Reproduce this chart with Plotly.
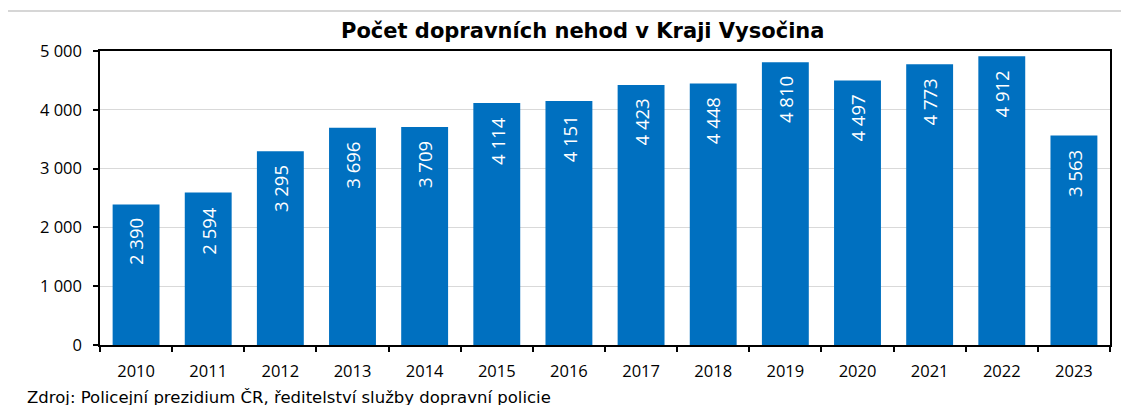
import plotly.graph_objects as go

years = ["2010", "2011", "2012", "2013", "2014", "2015", "2016",
         "2017", "2018", "2019", "2020", "2021", "2022", "2023"]
accidents = [2390, 2594, 3295, 3696, 3709, 4114, 4151,
             4423, 4448, 4810, 4497, 4773, 4912, 3563]
y_ticks = [0, 1000, 2000, 3000, 4000, 5000]

title_text = "Počet dopravních nehod v Kraji Vysočina"
source_text = "Zdroj: Policejní prezidium ČR, ředitelství služby dopravní policie"

W, H = 1129, 405
OFF = 8  # page body offset
L, R, T, B = 100 - OFF, 1110 - OFF, 51 - OFF, 345 - OFF


def px_x(p):
    return (p - OFF - L) / (R - L)


def px_y(p):
    return (B - (p - OFF)) / (B - T)


def fmt(v):
    return f"{v:,}".replace(",", "\u00a0")


fig = go.Figure()
fig.add_trace(go.Bar(
    x=years, y=accidents,
    marker=dict(color="#0070C0", line=dict(width=0)),
    width=0.65,
    hoverinfo="x+y",
))

annotations = []
for i, v in enumerate(accidents):
    annotations.append(dict(
        x=i, y=v, xref="x", yref="y",
        text=fmt(v), showarrow=False, textangle=-90,
        xanchor="center", yanchor="top", yshift=-12,
        font=dict(family="Open Sans", size=18.5, color="white"),
    ))

annotations.append(dict(
    x=px_x(582), y=px_y(31), xref="paper", yref="paper",
    text=f"<b>{title_text}</b>", showarrow=False,
    xanchor="center", yanchor="middle",
    font=dict(family="DejaVu Sans", size=21, color="black"),
))
annotations.append(dict(
    x=px_x(25), y=px_y(386), xref="paper", yref="paper",
    text=source_text, showarrow=False,
    xanchor="left", yanchor="top",
    font=dict(family="DejaVu Sans", size=16.5, color="black"),
))

shapes = [
    dict(type="line", xref="paper", yref="paper",
         x0=px_x(7), x1=px_x(1140), y0=px_y(11), y1=px_y(11),
         line=dict(color="#c8c8c8", width=1.5)),
    dict(type="line", xref="paper", yref="paper",
         x0=px_x(7), x1=px_x(7), y0=px_y(11), y1=px_y(420),
         line=dict(color="#c8c8c8", width=1.5)),
]

fig.update_layout(
    width=W, height=H,
    margin=dict(l=L, r=W - R, t=T, b=H - B, pad=0),
    paper_bgcolor="white", plot_bgcolor="white",
    showlegend=False,
    annotations=annotations,
    shapes=shapes,
    font=dict(family="Open Sans", size=14, color="black"),
)
fig.update_xaxes(
    type="category", tickson="boundaries", range=[-0.5, 13.5],
    ticks="outside", ticklen=5, tickcolor="black", tickwidth=1.5,
    showline=True, linecolor="black", linewidth=1.5, mirror=True,
    showgrid=False, ticklabelstandoff=10, automargin=False,
    tickfont=dict(family="Open Sans", size=16.5, color="black"),
)
fig.update_yaxes(
    range=[0, 5000], tickvals=y_ticks,
    ticktext=[fmt(v) for v in y_ticks],
    ticks="outside", ticklen=5, tickcolor="black", tickwidth=1.5,
    showline=True, linecolor="black", linewidth=1.5, mirror=True,
    showgrid=True, gridcolor="#d9d9d9", gridwidth=1,
    zeroline=False, ticklabelstandoff=8, automargin=False,
    tickfont=dict(family="Open Sans", size=16.5, color="black"),
)

fig.write_html("out.html")
